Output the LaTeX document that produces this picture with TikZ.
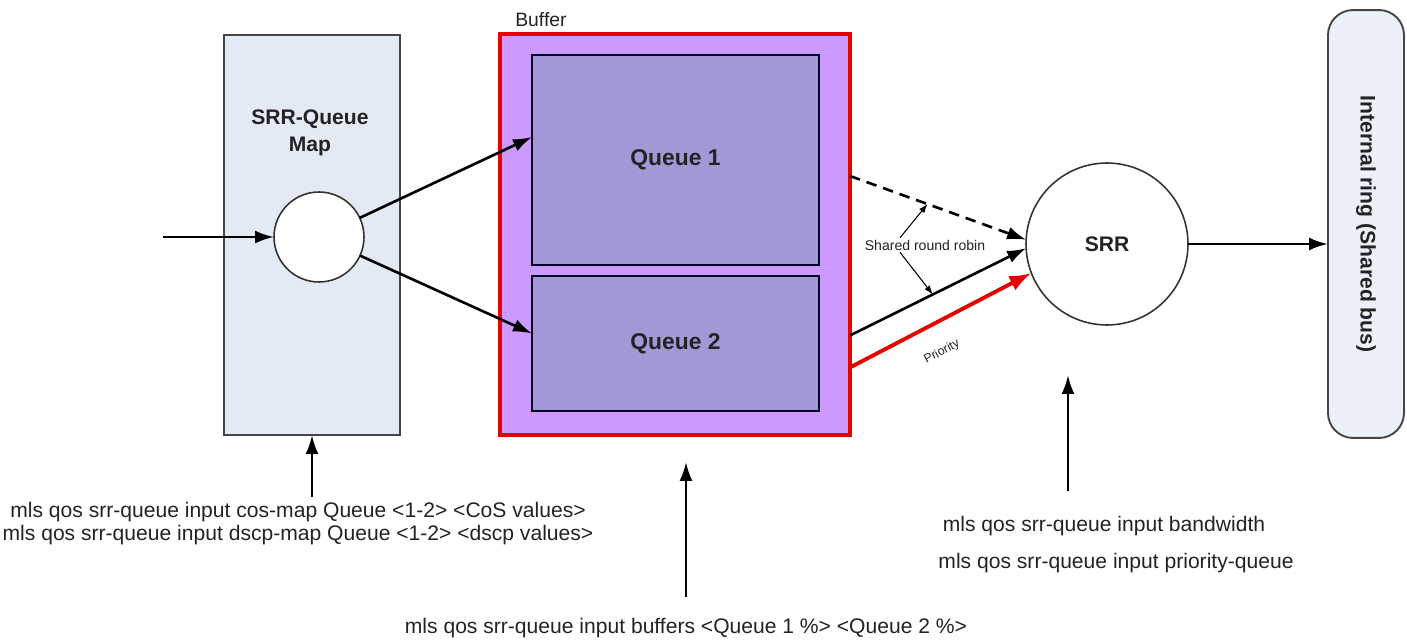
\documentclass[tikz,border=0pt]{standalone}
\usepackage{fontspec}
\setmainfont{Liberation Sans}
\usetikzlibrary{arrows.meta,positioning,calc}

\definecolor{mapfill}{RGB}{228,234,245}
\definecolor{buffill}{RGB}{204,153,255}
\definecolor{qfill}{RGB}{163,152,214}
\definecolor{edgegray}{RGB}{70,70,70}
\definecolor{txtgray}{RGB}{35,35,35}
\definecolor{bufred}{RGB}{230,0,0}

\begin{document}
\begin{tikzpicture}[
    x=0.02cm, y=-0.02cm,
    panel/.style={rectangle, draw=edgegray, fill=mapfill, line width=1.1pt, inner sep=0pt, outer sep=0pt},
    queue/.style={rectangle, draw=black!85!blue, fill=qfill, line width=1.3pt, minimum width=5.74cm, inner sep=0pt, outer sep=0pt, font=\fontsize{13}{15}\selectfont\bfseries, text=txtgray},
    dot/.style={circle, draw=black!80, fill=white, line width=0.9pt, inner sep=0pt, outer sep=0pt},
    arrow/.style={-{Latex[length=3.8mm, width=2.6mm]}, line width=1.5pt},
    small arrow/.style={-{Latex[length=1.8mm, width=1.3mm]}, line width=0.6pt},
    cmd/.style={inner sep=0pt, font=\fontsize{12}{13}\selectfont, text=txtgray, align=center}
]
\useasboundingbox (0,0) rectangle (1407,642);

% map stage
\node[panel, minimum width=3.52cm, minimum height=8cm] (map) at (312,235) {};
\node[font=\fontsize{12}{15}\selectfont\bfseries, text=txtgray, align=center] (maptitle) at (310,133) {SRR-Queue\\Map};
\node[dot, minimum size=1.8cm] (mapdot) at (319,237) {};

% buffer with both queues
\node[rectangle, draw=bufred, fill=buffill, line width=2.8pt, minimum width=7cm, minimum height=8.02cm, inner sep=0pt, outer sep=0pt] (buffer) at (675,234.5) {};
\node[anchor=base west, inner sep=0pt, font=\fontsize{11}{13}\selectfont, text=txtgray] (buflabel) at (515,27) {Buffer};
\node[queue, minimum height=4.2cm] (q1) at (675.5,160) {Queue 1};
\node[queue, minimum height=2.7cm] (q2) at (675.5,343.5) {Queue 2};

% scheduler and ring
\node[dot, minimum size=3.24cm, font=\fontsize{12}{14}\selectfont\bfseries, text=txtgray] (srr) at (1107,244) {SRR};
\node[rectangle, rounded corners=0.5cm, draw=edgegray, fill=mapfill!70!white, line width=1.1pt, minimum width=1.52cm, minimum height=8.56cm, inner sep=0pt, outer sep=0pt] (ring) at (1366,224) {};
\node[rotate=-90, font=\fontsize{12}{14}\selectfont\bfseries, text=txtgray] (ringtext) at (1366,224) {Internal ring (Shared bus)};

% commands
\node[cmd] (mapcmd) at (298,523.5) {mls qos srr-queue input cos-map Queue <1-2> <CoS values>\\mls qos srr-queue input dscp-map Queue <1-2> <dscp values>};
\node[cmd] (bufcmd) at (686,628) {mls qos srr-queue input buffers <Queue 1 \%> <Queue 2 \%>};
\node[cmd] (bwcmd) at (1104,526) {mls qos srr-queue input bandwidth};
\node[cmd] (pqcmd) at (1116,563) {mls qos srr-queue input priority-queue};

\coordinate (in) at (163,237);
\coordinate (maptail) at (312,497);
\coordinate (srrtail) at (1068,491);
\coordinate (srrtip) at (1068,375);

% connectors
\draw[arrow] (in) -- (mapdot.west);
\draw[arrow] (mapdot) -- ([yshift=0.46cm]q1.west);
\draw[arrow] (mapdot) -- ([yshift=0.2cm]q2.west);
\draw[arrow, dash pattern=on 6pt off 4pt] ([yshift=1.17cm]buffer.east) -- coordinate[pos=0.44] (dmid) (srr.177);
\draw[arrow] ([yshift=-2.02cm]buffer.east) -- coordinate[pos=0.47] (smid) (srr.183);
\draw[-{Latex[length=4.4mm, width=3.2mm]}, draw=bufred, fill=bufred, line width=2.2pt] ([yshift=-2.66cm]buffer.east) -- (srr.201);
\draw[arrow] (srr.east) -- (srr.east -| ring.west);

\node[inner sep=1pt, font=\fontsize{8}{9}\selectfont, text=txtgray] (srlabel) at (925,245) {Shared round robin};
\draw[small arrow] ([xshift=-0.5cm]srlabel.north) -- (dmid);
\draw[small arrow] ([xshift=-0.5cm]srlabel.south) -- (smid);
\node[rotate=28, inner sep=0pt, font=\fontsize{7}{8}\selectfont, text=txtgray] (prio) at (942,352) {Priority};

\draw[arrow] (maptail) -- (map.south);
\draw[arrow, shorten <=0.42cm, shorten >=0.54cm] (bufcmd.north) -- (bufcmd.north |- buffer.south);
\draw[arrow] (srrtail) -- (srrtip);

\end{tikzpicture}
\end{document}
